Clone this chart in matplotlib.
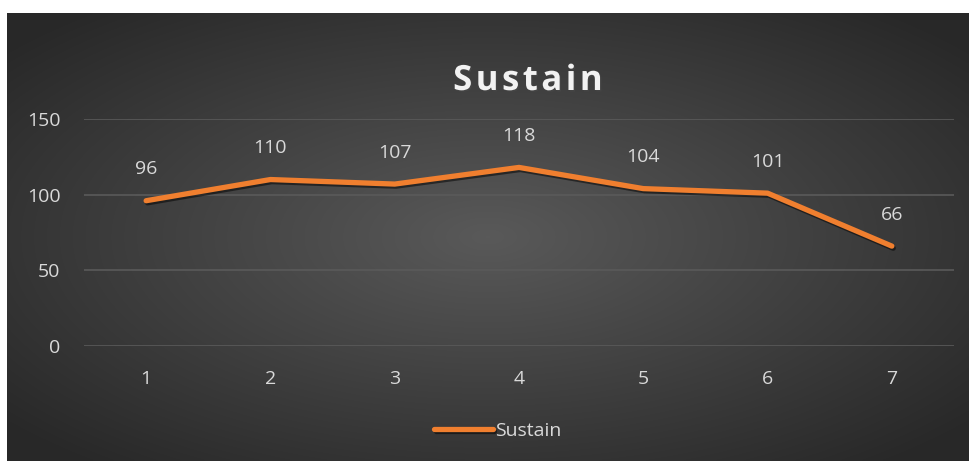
import matplotlib
matplotlib.use("Agg")
import matplotlib.pyplot as plt
import matplotlib.patheffects as pe
import numpy as np

categories = [1, 2, 3, 4, 5, 6, 7]
sustain = [96, 110, 107, 118, 104, 101, 66]
yticks = [0, 50, 100, 150]

W, H = 970, 462
fig = plt.figure(figsize=(W / 100, H / 100), dpi=100)
fig.patch.set_facecolor("white")

# dark radial background of the chart area
x0, y0, x1, y1 = 7, 13, 969, 461
bg = fig.add_axes([x0 / W, 1 - y1 / H, (x1 - x0) / W, (y1 - y0) / H])
gx, gy = np.meshgrid(np.linspace(-1, 1, 400), np.linspace(-1, 1, 200))
r = np.clip(np.sqrt(gx ** 2 + gy ** 2) / 1.3, 0, 1)
c_in, c_out = np.array([0.35, 0.35, 0.35]), np.array([0.16, 0.16, 0.16])
img = c_in[None, None, :] * (1 - r[..., None]) + c_out[None, None, :] * r[..., None]
bg.imshow(img, aspect="auto", extent=[0, 1, 0, 1], interpolation="bilinear")
bg.axis("off")

# plot area
px0, px1, py_top, py_bot = 84, 954, 119, 346
ax = fig.add_axes([px0 / W, 1 - py_bot / H, (px1 - px0) / W, (py_bot - py_top) / H])
ax.patch.set_alpha(0)
ax.plot(categories, sustain, color="#F07F2F", lw=3.8, solid_capstyle="round",
        solid_joinstyle="round", label="Sustain",
        path_effects=[pe.SimpleLineShadow(offset=(1, -1.5), alpha=0.5, shadow_color="black"), pe.Normal()])
ax.set_xlim(0.5, 7.5)
ax.set_ylim(0, 150)
ax.set_yticks(yticks)
ax.set_xticks(categories)
for s in ax.spines.values():
    s.set_visible(False)
ax.grid(axis="y", color="#5a5a5a", lw=1.2)
ax.set_axisbelow(True)
ax.tick_params(length=0, colors="#d9d9d9", labelsize=14)
ax.tick_params(axis="y", pad=17)
ax.tick_params(axis="x", pad=17)
for lbl in ax.get_xticklabels() + ax.get_yticklabels():
    lbl.set_fontfamily("Open Sans")

for xv, yv in zip(categories, sustain):
    ax.annotate(str(yv), (xv, yv), xytext=(0, 16), textcoords="offset points",
                ha="center", va="bottom", color="#d9d9d9", fontsize=14,
                fontfamily="Open Sans")

fig.text(528 / W, 1 - 81 / H, "\u200a".join("Sustain"), ha="center", va="center",
         fontsize=25, fontweight="bold", color="#f2f2f2",
         fontfamily=["Open Sans", "DejaVu Sans"],
         path_effects=[pe.withSimplePatchShadow(offset=(1, -1), alpha=0.6)])

leg = fig.legend(*ax.get_legend_handles_labels(), loc="center",
                 bbox_to_anchor=(498 / W, 1 - 431 / H), frameon=False,
                 handlelength=3.0, handletextpad=0.15,
                 prop={"family": "Open Sans", "size": 14})
for t in leg.get_texts():
    t.set_color("#d9d9d9")

fig.savefig("out.png", dpi=100, facecolor="white")
